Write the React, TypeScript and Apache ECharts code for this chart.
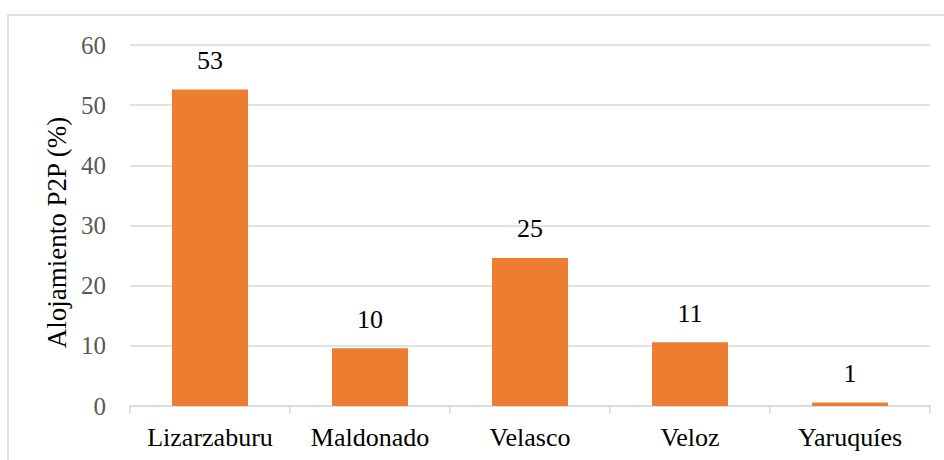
import React, { useEffect, useRef } from "react";
import * as echarts from "echarts";

const categories = ["Lizarzaburu", "Maldonado", "Velasco", "Veloz", "Yaruquíes"];
const values = [52.6, 9.6, 24.6, 10.6, 0.6];
const yTicks = { min: 0, max: 60, interval: 10 };
const yTitle = "Alojamiento P2P (%)";

const FONT = "Liberation Serif, Times New Roman, serif";

export default function App() {
  const ref = useRef<HTMLDivElement>(null);
  useEffect(() => {
    if (!ref.current) return;
    const chart = echarts.init(ref.current, null, { renderer: "svg" });
    chart.setOption({
      animation: false,
      backgroundColor: "#ffffff",
      textStyle: { fontFamily: FONT },
      graphic: [
        {
          type: "rect",
          shape: { x: 8, y: 15, width: 1000, height: 1000 },
          style: { fill: "none", stroke: "#d9d9d9", lineWidth: 1.5 },
          silent: true,
          z: -1,
        },
      ],
      grid: { left: 130, right: 14, top: 45, bottom: 54, containLabel: false },
      xAxis: {
        type: "category",
        data: categories,
        axisLine: { show: true, lineStyle: { color: "#d9d9d9", width: 1.5 } },
        axisTick: { show: true, alignWithLabel: false, length: 8, lineStyle: { color: "#d9d9d9", width: 1.5 } },
        axisLabel: { color: "#000000", fontSize: 26, fontFamily: FONT, margin: 18, interval: 0 },
      },
      yAxis: {
        type: "value",
        min: yTicks.min,
        max: yTicks.max,
        interval: yTicks.interval,
        name: yTitle,
        nameLocation: "middle",
        nameRotate: 90,
        nameGap: 60,
        nameTextStyle: { color: "#000000", fontSize: 27, fontFamily: FONT, padding: [0, 14, 0, 0] },
        axisLine: { show: false },
        axisTick: { show: false },
        axisLabel: { color: "#595959", fontSize: 25, fontFamily: FONT, margin: 24 },
        splitLine: { show: true, lineStyle: { color: "#d9d9d9", width: 1.5 } },
      },
      series: [
        {
          type: "bar",
          data: values,
          barWidth: 76,
          itemStyle: { color: "#ED7D31" },
          label: {
            show: true,
            position: "top",
            distance: 16,
            color: "#000000",
            fontSize: 26,
            fontFamily: FONT,
            formatter: (p: any) => String(Math.round(p.value)),
          },
        },
      ],
    });
    return () => chart.dispose();
  }, []);
  return (
    <div
      ref={ref}
      style={{ position: "absolute", left: 0, top: 0, width: 944, height: 460 }}
    />
  );
}
